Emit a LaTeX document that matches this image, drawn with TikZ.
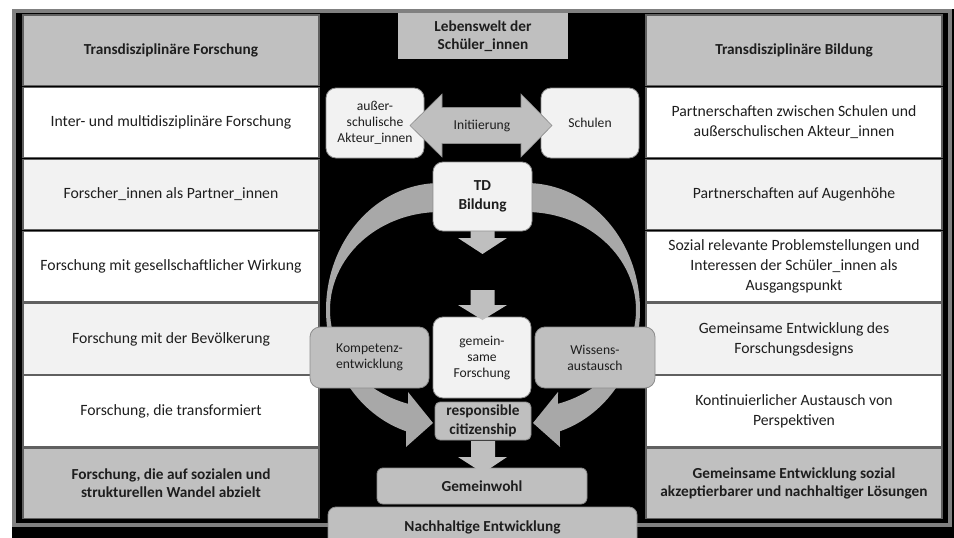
\documentclass[tikz,border=0pt]{standalone}
\usepackage{fontspec}
\setmainfont{Carlito}
\definecolor{cellhead}{HTML}{C0C0C0}
\definecolor{cellalt}{HTML}{F2F2F2}
\definecolor{cellline}{HTML}{606060}
\definecolor{framegray}{HTML}{808080}
\definecolor{boxlight}{HTML}{F2F2F2}
\definecolor{boxgray}{HTML}{BFBFBF}
\definecolor{boxline}{HTML}{8C8C8C}
\definecolor{arcgray}{HTML}{A8A8A8}
\definecolor{txt}{HTML}{1E1E1E}
\begin{document}
\begin{tikzpicture}[x=1pt,y=-1pt,
  cellbase/.style={draw=cellline, line width=1.2pt, minimum width=296pt, minimum height=70.5pt, inner sep=0pt, align=center, text=txt},
  headcell/.style={cellbase, fill=cellhead, font=\fontsize{15.3}{18.5}\selectfont\bfseries},
  whitecell/.style={cellbase, fill=white, font=\fontsize{15.7}{20}\selectfont},
  altcell/.style={cellbase, fill=cellalt, font=\fontsize{15.7}{20}\selectfont},
  rbox/.style={draw=boxline, line width=0.8pt, rounded corners=10pt, inner sep=0pt, align=center, text=txt, font=\fontsize{13.6}{16}\selectfont},
  lightbox/.style={rbox, fill=boxlight},
  graybox/.style={rbox, fill=boxgray},
  boldtxt/.style={font=\fontsize{15.3}{18.5}\selectfont\bfseries},
  blockarrow/.style={fill=boxgray, draw=boxline, line width=0.6pt},
  downarrow/.style={fill=boxgray},
  curvearrow/.style={fill=arcgray},
]
\useasboundingbox (0,0) rectangle (954,538);
\fill[white] (0,0) rectangle (954,538);
\fill[black] (12,9) rectangle (954,538);
\draw[framegray, line width=4pt] (14,11) rectangle (950,525);

% left table
\node[headcell]  (lh) at (171,50.3)  {Transdisziplinäre Forschung};
\node[whitecell] (l1) at (171,122.4) {Inter- und multidisziplinäre Forschung};
\node[altcell]   (l2) at (171,194.6) {Forscher\_innen als Partner\_innen};
\node[whitecell] (l3) at (171,266.7) {Forschung mit gesellschaftlicher Wirkung};
\node[altcell]   (l4) at (171,338.9) {Forschung mit der Bevölkerung};
\node[whitecell] (l5) at (171,411)   {Forschung, die transformiert};
\node[headcell]  (lf) at (171,483.2) {Forschung, die auf sozialen und\\strukturellen Wandel abzielt};

% right table
\node[headcell]  (rh) at (794,50.3)  {Transdisziplinäre Bildung};
\node[whitecell] (r1) at (794,122.4) {Partnerschaften zwischen Schulen und\\außerschulischen Akteur\_innen};
\node[altcell]   (r2) at (794,194.6) {Partnerschaften auf Augenhöhe};
\node[whitecell] (r3) at (794,266.7) {Sozial relevante Problemstellungen und\\Interessen der Schüler\_innen als\\Ausgangspunkt};
\node[altcell]   (r4) at (794,338.9) {Gemeinsame Entwicklung des\\Forschungsdesigns};
\node[whitecell] (r5) at (794,411)   {Kontinuierlicher Austausch von\\Perspektiven};
\node[headcell]  (rf) at (794,483.2) {Gemeinsame Entwicklung sozial\\akzeptierbarer und nachhaltiger Lösungen};

% top label
\node[fill=boxgray, minimum width=170pt, minimum height=46pt, inner sep=0pt, align=center, text=txt, boldtxt] (leb) at (483,36) {Lebenswelt der\\Schüler\_innen};

% curved arrows
\fill[curvearrow] plot[domain=270:107.3, samples=80] ({440+114*cos(\x)},{310+127*sin(\x)})
  -- (406,447) -- (433,423) -- (408,392)
  -- plot[domain=106.9:270, samples=80] ({440+110*cos(\x)},{310+98*sin(\x)}) -- cycle;
\fill[curvearrow] plot[domain=-90:72.7, samples=80] ({526+114*cos(\x)},{310+127*sin(\x)})
  -- (560,447) -- (533,423) -- (558,392)
  -- plot[domain=73.1:-90, samples=80] ({526+110*cos(\x)},{310+98*sin(\x)}) -- cycle;

% side boxes
\node[lightbox, minimum width=98pt, minimum height=70pt] (aus) at (375,123) {außer-\\schulische\\Akteur\_innen};
\node[lightbox, minimum width=98pt, minimum height=70pt] (sch) at (590,123) {Schulen};

% double arrow Initiierung
\filldraw[blockarrow] (410,125.5) -- (442,94) -- (442,107.5) -- (521,107.5) -- (521,94) -- (552,125.5)
  -- (521,157) -- (521,143.5) -- (442,143.5) -- (442,157) -- cycle;
\node[text=txt, font=\fontsize{13.6}{16}\selectfont] (ini) at (482,126) {Initiierung};

% down arrows
\fill[downarrow] (470.5,225) -- (494.5,225) -- (494.5,238) -- (507,238) -- (482.5,254) -- (458,238) -- (470.5,238) -- cycle;
\node[lightbox, minimum width=99pt, minimum height=69pt, boldtxt] (td) at (482.5,196.5) {TD\\Bildung};

\node[lightbox, minimum width=98pt, minimum height=81pt] (gem) at (482,357.5) {gemein-\\same\\Forschung};
\fill[downarrow] (470.5,290) -- (494.5,290) -- (494.5,305) -- (507,305) -- (482.5,320) -- (458,305) -- (470.5,305) -- cycle;

\node[graybox, minimum width=119pt, minimum height=61pt] (komp) at (369.5,357.5) {Kompetenz-\\entwicklung};
\node[graybox, minimum width=120pt, minimum height=61pt] (wiss) at (595,357.5) {Wissens-\\austausch};

\node[graybox, rounded corners=5pt, minimum width=96pt, minimum height=38pt, boldtxt] (resp) at (483,421) {responsible\\citizenship};

\node[graybox, rounded corners=6pt, minimum width=210pt, minimum height=36pt, boldtxt] (gw) at (482,486) {Gemeinwohl};
\fill[downarrow] (471,441) -- (495,441) -- (495,457) -- (507,457) -- (483,473) -- (458,457) -- (471,457) -- cycle;

\node[graybox, rounded corners=8pt, minimum width=309pt, minimum height=40pt, boldtxt] (ne) at (482.5,527) {Nachhaltige Entwicklung};
\end{tikzpicture}
\end{document}
